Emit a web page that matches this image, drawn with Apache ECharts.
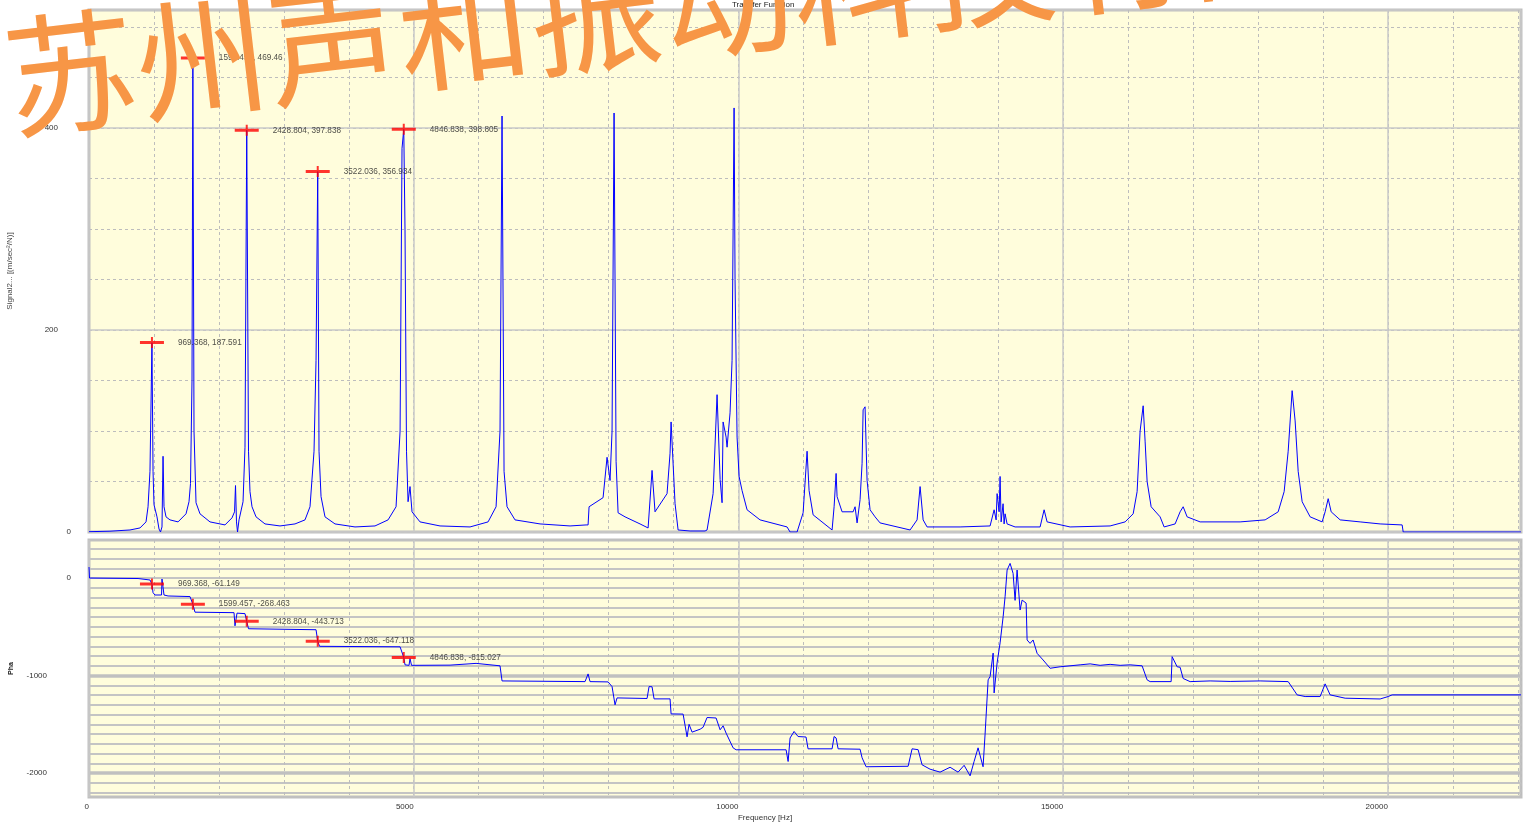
<!DOCTYPE html>
<html><head><meta charset="utf-8">
<script src="https://cdn.jsdelivr.net/npm/echarts@6/dist/echarts.min.js"></script>
<style>html,body{margin:0;padding:0;background:#fff;}#c{width:1527px;height:826px;}</style>
</head><body><div id="c"></div>
<script>
// ---- data ----
const magFreq = [0,323,631,785,878,909,939,969.368,986,1001,1047,1078,1101,1124,1140,1155,1186,1247,1371,1494,1540,1563,1586,1599.457,1617,1648,1709,1863,2094,2202,2241,2256,2271,2287,2310,2372,2402,2428.804,2456,2479,2510,2572,2710,2941,3172,3326,3403,3465,3496,3522.036,3542,3573,3634,3788,4096,4404,4605,4728,4790,4820,4846.838,4866,4889,4913,4943,4974,5097,5405,5867,6145,6268,6329,6360,6391,6437,6560,6945,7407,7654,7685,7700,7916,7977,8023,8054,8085,8116,8147,8254,8485,8609,8670,8716,8901,8947,8963,9024,9071,9255,9486,9517,9610,9671,9718,9748,9764,9810,9825,9871,9902,9933,9948,9979,10010,10056,10133,10333,10749,10795,10903,10996,11057,11088,11150,11442,11473,11504,11519,11596,11766,11796,11827,11873,11904,11920,11950,11981,12027,12104,12181,12643,12751,12797,12844,12905,13413,13875,13937,13968,13983,14014,14029,14045,14075,14091,14106,14137,14260,14645,14707,14753,15107,15723,15954,16078,16139,16185,16232,16262,16293,16355,16493,16555,16724,16801,16848,16909,17109,17725,18110,18311,18403,18465,18526,18572,18619,18680,18803,18988,19034,19081,19127,19265,19573,19881,20220,20236,22050];
const magVal = [0.3,0.8,2,4,10,25,60,187.591,60,27,15,3,0,5,75,25,15,12,10,18,30,48,150,469.46,100,29,18,10,7,14,20,46,10,0,12,30,84,397.838,80,40,25,15,8,6,8,12,25,80,170,356.934,80,35,15,8,5,6,12,25,100,380,398.805,300,80,30,45,20,10,6,5,10,25,100,412,60,25,12,8,6,7,7,25,34,74,51,100,415,70,19,15,8,4,61,20,38,78,109,28,2,1,1,2,38,136,52,29,109,94,84,118,170,420,250,94,55,41,22,12,5,0,0,19,80,41,17,2,25,58,35,20,20,25,9,32,68,121,124,51,22,15,9,2,12,45,12,5,5,6,22,12,38,20,55,10,28,8,18,8,5,5,22,10,5,6,10,18,40,100,125,90,50,25,15,5,8,20,25,15,10,10,12,20,40,80,140,110,60,30,15,10,20,33,20,12,10,8,7,0,0];

const phFreq = [0,8,755,785,939,969.368,986,1016,1117,1124,1147,1155,1217,1555,1599.457,1632,2233,2248,2264,2279,2402,2428.804,2456,3496,3522.036,3550,4790,4846.838,4866,4928,4943,4966,5559,5960,6329,6360,7638,7685,7715,7993,8054,8100,8131,8593,8624,8670,8701,8947,8963,9148,9209,9240,9286,9410,9456,9517,9656,9718,9764,9810,9918,9964,10734,10765,10795,10857,10918,11041,11072,11442,11473,11504,11535,11873,11904,11966,12613,12674,12767,12828,12951,13105,13259,13382,13475,13567,13629,13690,13767,13798,13845,13875,13922,13937,13983,14029,14076,14106,14137,14183,14229,14260,14291,14337,14368,14430,14445,14491,14537,14599,14691,14799,14953,15261,15415,15569,15723,15877,16031,16216,16293,16339,16663,16678,16755,16801,16848,16955,17263,17571,18033,18465,18603,18726,18957,19034,19111,19342,19881,20005,20066,22050];
const phVal = [113,0,-5,-10,-20,-61.149,-150,-174,-174,-10,-10,-174,-184,-190,-268.463,-350,-355,-490,-490,-360,-365,-443.713,-520,-530,-647.118,-700,-705,-815.027,-890,-895,-825,-895,-893,-875,-900,-1055,-1062,-983,-1062,-1065,-1113,-1300,-1229,-1235,-1113,-1115,-1239,-1239,-1393,-1395,-1628,-1500,-1580,-1550,-1530,-1430,-1435,-1556,-1515,-1590,-1741,-1761,-1761,-1881,-1640,-1573,-1625,-1630,-1751,-1751,-1625,-1640,-1751,-1755,-1843,-1935,-1930,-1751,-1760,-1915,-1960,-1990,-1940,-1990,-1920,-2028,-1880,-1741,-1935,-1600,-1044,-1010,-770,-1178,-870,-665,-396,-192,82,150,48,-229,82,-328,-226,-257,-635,-670,-635,-772,-840,-925,-910,-890,-880,-895,-885,-895,-890,-900,-1044,-1062,-1062,-806,-910,-915,-1030,-1062,-1055,-1060,-1055,-1062,-1198,-1215,-1215,-1085,-1198,-1232,-1240,-1215,-1198,-1198];

const markerFreq = [969.368,1599.457,2428.804,3522.036,4846.838];
const markerMag = [187.591,469.46,397.838,356.934,398.805];
const markerPhase = [-61.149,-268.463,-443.713,-647.118,-815.027];

const xLabelTicks = [0,5000,10000,15000,20000];
const phaseMinorLines = [-2200,-2100,-2000,-1900,-1800,-1700,-1600,-1500,-1400,-1300,-1200,-1100,-1000,-900,-800,-700,-600,-500,-400,-300,-200,-100,0,100,200,300];
const phaseMajorLines = [-2000,-1000];
const phaseLabels = [-2000,-1000,0];

// ---- chart ----
const FONT = '"Liberation Sans", Arial, sans-serif';
const chart = echarts.init(document.getElementById('c'), null, {renderer:'canvas'});
const dashed = {show:true, lineStyle:{color:'#BDBDBD', width:1, type:[3,3]}};
const solid = {show:true, lineStyle:{color:'#C8C8C8', width:1.5, type:'solid'}};
const noAxis = {axisLine:{show:false}, axisTick:{show:false}, axisLabel:{show:false}};
const crossPath = 'path://M0,4 L24,4 L24,7 L0,7 Z M11,0 L13,0 L13,11 L11,11 Z';
const yRich = {
  z:{fontSize:8, color:'#333', fontFamily:FONT, padding:[0,0,0,0]},
  n:{fontSize:8, color:'#333', fontFamily:FONT, padding:[0,13,0,0]},
  w:{fontSize:8, color:'#333', fontFamily:FONT, padding:[0,24,0,0]}
};
const yFmt = v => v === 0 ? '{z|0}' : (Math.abs(v) >= 1000 ? '{w|' + v + '}' : '{n|' + v + '}');
const markerLabel = {show:true, position:'right', distance:14, color:'#222', fontSize:8.2, fontFamily:FONT,
  formatter: p => p.value[0] + ', ' + p.value[1]};

chart.setOption({
  animation:false,
  backgroundColor:'#ffffff',
  title:{text:'Transfer Function', left:727, top:-4, textStyle:{fontSize:8, fontWeight:'normal', color:'#222', fontFamily:FONT}},
  grid:[
    {left:89, right:6, top:10, height:522, outerBoundsMode:'none', containLabel:false, show:true, backgroundColor:'#FFFDDC', borderColor:'#C0C0C0', borderWidth:3},
    {left:89, right:6, top:540, height:257, outerBoundsMode:'none', containLabel:false, show:true, backgroundColor:'#FFFDDC', borderColor:'#C0C0C0', borderWidth:3}
  ],
  xAxis:[
    Object.assign({gridIndex:0, type:'value', min:0, max:22050, interval:1000, position:'bottom', splitLine:dashed}, noAxis),
    Object.assign({gridIndex:0, type:'value', min:0, max:22050, interval:5000, position:'top', splitLine:solid}, noAxis),
    Object.assign({gridIndex:1, type:'value', min:0, max:22050, interval:1000, position:'top', splitLine:dashed}, noAxis),
    {gridIndex:1, type:'value', min:0, max:22050, position:'bottom', splitLine:solid,
     axisLine:{show:false}, axisTick:{show:false, customValues:xLabelTicks},
     axisLabel:{show:true, customValues:xLabelTicks, formatter: v => String(v), align:'right', margin:6, fontSize:8, color:'#333', fontFamily:FONT},
     name:'Frequency [Hz]', nameLocation:'middle', nameGap:17,
     nameTextStyle:{fontSize:8, color:'#333', fontFamily:FONT, padding:[0,80,0,0]}}
  ],
  yAxis:[
    Object.assign({gridIndex:0, type:'value', min:0, max:517, interval:50, position:'right', splitLine:dashed}, noAxis),
    {gridIndex:0, type:'value', min:0, max:517, interval:200, position:'left', splitLine:solid,
     axisLine:{show:false}, axisTick:{show:false},
     axisLabel:{show:true, showMaxLabel:false, align:'right', margin:18, formatter:yFmt, rich:yRich},
     name:'Signal2... [(m/sec²/N)]', nameLocation:'middle', nameRotate:90, nameGap:75,
     nameTextStyle:{fontSize:8, color:'#444', fontFamily:FONT}},
    {gridIndex:1, type:'value', min:-2245, max:390, position:'right',
     splitLine:{show:true, lineStyle:{color:'#C4C4C4', width:2}},
     axisLine:{show:false}, axisTick:{show:false, customValues:phaseMinorLines}, axisLabel:{show:false}},
    {gridIndex:1, type:'value', min:-2245, max:390, position:'left',
     splitLine:{show:true, lineStyle:{color:'#C0C0C0', width:3.5}},
     axisLine:{show:false}, axisTick:{show:false, customValues:phaseMajorLines},
     axisLabel:{show:true, customValues:phaseLabels, align:'right', margin:18, formatter:yFmt, rich:yRich},
     name:'Pha', nameLocation:'middle', nameRotate:90, nameGap:74,
     nameTextStyle:{fontSize:7, fontWeight:'bold', color:'#222', fontFamily:FONT}}
  ],
  series:[
    {type:'line', xAxisIndex:0, yAxisIndex:0, showSymbol:false, symbol:'none', clip:true,
     lineStyle:{color:'#0000FF', width:1}, data: magFreq.map((f,i)=>[f, magVal[i]]), z:3},
    {type:'line', xAxisIndex:2, yAxisIndex:2, showSymbol:false, symbol:'none', clip:true,
     lineStyle:{color:'#0000FF', width:1}, data: phFreq.map((f,i)=>[f, phVal[i]]), z:3},
    {type:'scatter', xAxisIndex:0, yAxisIndex:0, symbol:crossPath, symbolSize:[24,11],
     itemStyle:{color:'#FF0000'}, label:markerLabel, z:5,
     data: markerFreq.map((f,i)=>[f, markerMag[i]])},
    {type:'scatter', xAxisIndex:2, yAxisIndex:2, symbol:crossPath, symbolSize:[24,11],
     itemStyle:{color:'#FF0000'}, label:markerLabel, z:5,
     data: markerFreq.map((f,i)=>[f, markerPhase[i]])}
  ],
  graphic:[
    {type:'text', x:5, y:80, rotation:0.115, z:100, silent:true,
     style:{text:'苏州声和振动科技有限公司', fontSize:132, fontFamily:'"Noto Sans CJK SC"', fill:'#F79646', verticalAlign:'middle', align:'left'}}
  ]
});
</script></body></html>
